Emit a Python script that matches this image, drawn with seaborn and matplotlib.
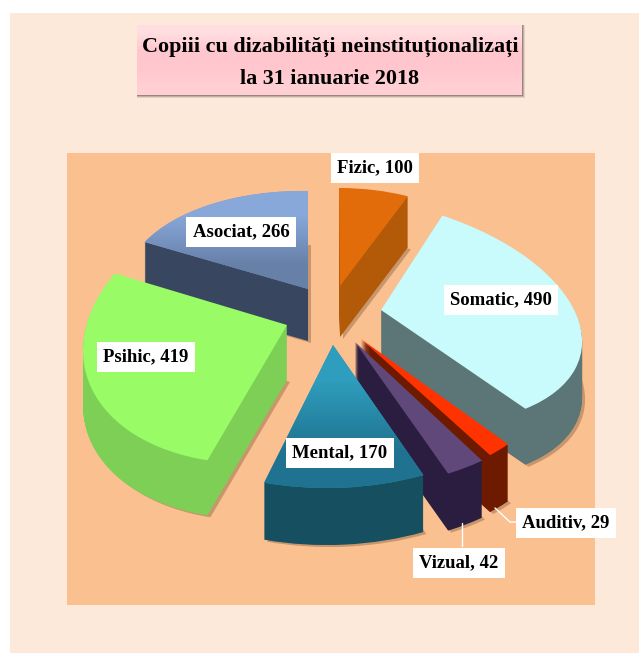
import matplotlib
matplotlib.use('Agg')
import matplotlib.pyplot as plt
import seaborn as sns
from matplotlib.colors import LinearSegmentedColormap
from matplotlib.patches import Rectangle
from matplotlib.transforms import Affine2D

# Data
categories = ['Fizic', 'Somatic', 'Auditiv', 'Vizual', 'Mental', 'Psihic', 'Asociat']
values = [100, 490, 29, 42, 170, 419, 266]
title_lines = ['Copiii cu dizabilități neinstituționalizați', 'la 31 ianuarie 2018']

# Colours
top_colors = sns.color_palette(['#E36C0A', '#C9FBFC', '#FF3300', '#60497A', '#2F8FAD', '#99FB66', '#7C99C9'])
side_colors = sns.color_palette(['#B25A08', '#5C7677', '#6E1A00', '#2B1D40', '#164F60', '#7DD055', '#38475F'])
gradients = {'Asociat': ('#88A8DA', '#6780A8'), 'Mental': ('#2F9DBD', '#1F7390')}

# Fake perspective: apex (px), unit x and unit y vectors of each slice (px), depth (px)
frames = {
    'Fizic': (340, 286, 171, 0, -1, 98, 51),
    'Somatic': (381, 310, 200, -20, -21, 112, 56),
    'Auditiv': (361, 339, 203, 7, -22, 143, 57),
    'Vizual': (355, 342, 224, 7, -6, 146, 57),
    'Mental': (333, 345, 231, 4, 0, 143, 57),
    'Psihic': (287, 325, 203, 12, 20, 138, 55),
    'Asociat': (308, 289, 183, -3, 0, 98, 52),
}
# Back to front
draw_order = ['Asociat', 'Fizic', 'Somatic', 'Auditiv', 'Vizual', 'Psihic', 'Mental']

# Label centres in px
label_pos = {
    'Fizic': (375, 168), 'Somatic': (501, 300), 'Auditiv': (566, 523), 'Vizual': (459, 563),
    'Mental': (340, 453), 'Psihic': (146, 357), 'Asociat': (241, 232),
}

sns.set_theme(style='white')
plt.rcParams['font.family'] = ['Liberation Serif', 'DejaVu Serif']

fig = plt.figure(figsize=(6.39, 6.53), dpi=100, facecolor='white')
ax = fig.add_axes([0, 0, 1, 1])


def slice_transform(name, dx=0, dy=0):
    cx, cy, xx, xy, yx, yy, depth = frames[name]
    return Affine2D.from_values(xx, -xy, yx, -yy, cx + dx, cy + dy) + ax.transData


def draw_pie(colors, dx=0, dy=0, zoffset=0, only=None, alpha=None):
    wedges, _ = ax.pie(values, startangle=90, counterclock=False, colors=colors,
                       labeldistance=None, wedgeprops={'linewidth': 0, 'alpha': alpha})
    out = {}
    for name, w in zip(categories, wedges):
        if only is not None and name not in only:
            w.remove()
            continue
        w.set_transform(slice_transform(name, dx, dy))
        w.set_zorder(10 + draw_order.index(name) * 100 + zoffset)
        out[name] = w
    return out


# Backgrounds
ax.add_patch(Rectangle((10, 13), 629, 640, fc='#FDE9D9', ec='none', zorder=0))
ax.add_patch(Rectangle((67, 153), 528, 452, fc='#FAC090', ec='none', zorder=1))

# Title box with soft shadow, lower right only
for grow, a in [(3, 0.15), (2, 0.25), (1, 0.4)]:
    ax.add_patch(Rectangle((137, 25), 385 + grow, 70 + grow,
                           fc='#5A4A4A', ec='none', alpha=a, zorder=2))
title_box = Rectangle((137, 25), 385, 70, fc='#FFC9CE', ec='none', zorder=3)
ax.add_patch(title_box)
title_im = ax.imshow([[0], [1], [1], [0.6]], extent=(137, 522, 95, 25), aspect='auto', zorder=3,
                     interpolation='bilinear',
                     cmap=LinearSegmentedColormap.from_list('pink', ['#FFDDE0', '#FFC7CD']))
ax.text(330, 47, title_lines[0], ha='center', va='center', fontsize=15.9, fontweight='bold',
        color='black', zorder=5)
ax.text(330, 79, title_lines[1], ha='center', va='center', fontsize=15.9, fontweight='bold',
        color='black', zorder=5)

# Shadow under each slice, walls as stacked copies, then the top faces
for name in draw_order:
    depth = frames[name][6]
    draw_pie(['#A87A55'] * len(values), dx=3, dy=depth + 2, zoffset=0, only=[name], alpha=0.6)
    for d in range(depth, 0, -1):
        draw_pie(side_colors, dy=d, zoffset=1 + depth - d, only=[name])
tops = draw_pie(top_colors, zoffset=90)

# Vertical shading on the two slices that show it
for name, (c_top, c_bottom) in gradients.items():
    cx, cy, xx, xy, yx, yy, depth = frames[name]
    cmap = LinearSegmentedColormap.from_list(name, [c_top, c_bottom])
    y0, y1 = (cy - yy, cy) if name == 'Asociat' else (cy, cy + yy)
    im = ax.imshow([[0], [1]], extent=(cx - xx, cx + xx, y1, y0), aspect='auto', cmap=cmap,
                   interpolation='bilinear', zorder=tops[name].get_zorder() + 1)
    im.set_clip_path(tops[name])

ax.set_aspect('auto')
ax.set_xlim(0, 639)
ax.set_ylim(653, 0)
ax.axis('off')

# Leader lines
ax.plot([495, 510, 517], [508, 522, 522], color='white', lw=1, zorder=1500)
ax.plot([462, 462], [523, 546], color='white', lw=1, zorder=1500)

# Labels
for name, val in zip(categories, values):
    x, y = label_pos[name]
    ax.text(x, y, f'{name}, {val}', ha='center', va='center', fontsize=13.5, fontweight='bold',
            color='black', zorder=2000,
            bbox=dict(boxstyle='square,pad=0.34', fc='white', ec='none'))

fig.savefig('out.png', dpi=100)
